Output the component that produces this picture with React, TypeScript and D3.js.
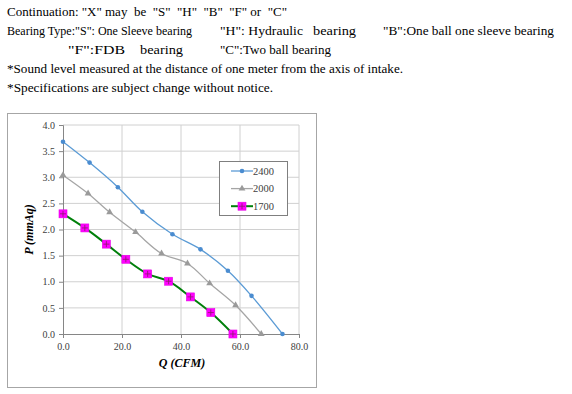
import { useEffect, useRef } from 'react';
import * as d3 from 'd3';

const flow2400 = [0, 9.0, 18.6, 26.9, 37.1, 46.6, 55.9, 63.9, 74.4];
const pres2400 = [3.68, 3.28, 2.81, 2.34, 1.91, 1.62, 1.21, 0.73, 0];
const flow2000 = [0, 8.5, 15.8, 24.6, 33.4, 42.2, 49.7, 58.5, 67.2];
const pres2000 = [3.04, 2.69, 2.33, 1.95, 1.54, 1.35, 0.97, 0.55, 0];
const flow1700 = [0, 7.4, 14.7, 21.3, 28.7, 35.8, 43.2, 50.1, 57.6];
const pres1700 = [2.30, 2.03, 1.72, 1.43, 1.15, 1.01, 0.71, 0.41, 0];
const seriesNames = ['2400', '2000', '1700'];
const xTicks = [0, 20, 40, 60, 80];
const yTicks = [0, 0.5, 1, 1.5, 2, 2.5, 3, 3.5, 4];

// header notes, split into the pieces that sit at their own places
const noteLines: { x: number; y: number; w: number; t: string }[] = [
  { x: 7, y: 16, w: 280, t: 'Continuation: "X" may  be  "S"  "H"  "B"  "F" or  "C"' },
  { x: 7, y: 35, w: 185, t: 'Bearing Type:"S": One Sleeve bearing' },
  { x: 220, y: 35, w: 83, t: '"H": Hydraulic' },
  { x: 313, y: 35, w: 43, t: 'bearing' },
  { x: 383, y: 35, w: 171, t: '"B":One ball one sleeve bearing' },
  { x: 68, y: 54, w: 57, t: '"F":FDB' },
  { x: 140, y: 54, w: 43, t: 'bearing' },
  { x: 220, y: 54, w: 111, t: '"C":Two ball bearing' },
  { x: 7, y: 73, w: 396, t: '*Sound level measured at the distance of one meter from the axis of intake.' },
  { x: 7, y: 92, w: 266, t: '*Specifications are subject change without notice.' },
];

const serif = '"Liberation Serif", "Times New Roman", serif';

export default function App() {
  const svgRef = useRef<SVGSVGElement>(null);

  useEffect(() => {
    if (!svgRef.current) return;
    const svg = d3.select(svgRef.current);
    svg.selectAll('*').remove();

    svg.append('rect').attr('width', 572).attr('height', 394).attr('fill', 'white');

    svg.selectAll('text.note')
      .data(noteLines)
      .enter()
      .append('text')
      .attr('class', 'note')
      .attr('x', d => d.x)
      .attr('y', d => d.y)
      .attr('textLength', d => d.w)
      .attr('lengthAdjust', 'spacingAndGlyphs')
      .style('white-space', 'pre')
      .attr('font-family', serif)
      .attr('font-size', 12.5)
      .attr('fill', '#000')
      .text(d => d.t);

    // chart frame
    svg.append('rect')
      .attr('x', 7.5).attr('y', 113.5)
      .attr('width', 309).attr('height', 274)
      .attr('fill', 'white')
      .attr('stroke', '#a6a6a6');

    const x = d3.scaleLinear().domain([0, 80]).range([63, 299]);
    const y = d3.scaleLinear().domain([0, 4]).range([334, 125]);

    const g = svg.append('g');

    g.selectAll('line.vg').data(xTicks.slice(1)).enter().append('line')
      .attr('x1', d => x(d)).attr('x2', d => x(d))
      .attr('y1', y(4)).attr('y2', y(0))
      .attr('stroke', '#d0d0d0');
    g.selectAll('line.hg').data(yTicks.slice(1)).enter().append('line')
      .attr('x1', x(0)).attr('x2', x(80))
      .attr('y1', d => y(d)).attr('y2', d => y(d))
      .attr('stroke', '#d0d0d0');

    const ax = g.append('g').attr('transform', `translate(0,${y(0)})`)
      .call(d3.axisBottom(x).tickValues(xTicks).tickSize(4).tickFormat(d3.format('.1f')));
    const ay = g.append('g').attr('transform', `translate(${x(0)},0)`)
      .call(d3.axisLeft(y).tickValues(yTicks).tickSize(4).tickFormat(d3.format('.1f')));
    [ax, ay].forEach(a => {
      a.select('.domain').attr('stroke', '#868686');
      a.selectAll('.tick line').attr('stroke', '#868686');
      a.selectAll('.tick text')
        .attr('font-family', serif)
        .attr('font-size', 10)
        .attr('fill', '#404040');
    });
    ax.selectAll('.tick text').attr('y', 9);
    ay.selectAll('.tick text').attr('x', -8);

    svg.append('text')
      .attr('transform', `translate(33,${(y(0) + y(4)) / 2}) rotate(-90)`)
      .attr('text-anchor', 'middle')
      .attr('font-family', serif)
      .attr('font-size', 12).attr('font-weight', 'bold').attr('font-style', 'italic')
      .text('P (mmAq)');
    svg.append('text')
      .attr('x', (x(0) + x(80)) / 2 + 1).attr('y', 367)
      .attr('text-anchor', 'middle')
      .attr('font-family', serif)
      .attr('font-size', 12).attr('font-weight', 'bold').attr('font-style', 'italic')
      .text('Q (CFM)');

    const line = d3.line<[number, number]>()
      .x(d => x(d[0])).y(d => y(d[1]))
      .curve(d3.curveCatmullRom.alpha(0.5));

    const series = [
      { name: seriesNames[0], pts: d3.zip(flow2400, pres2400) as [number, number][], color: '#5b9bd5', width: 1.3 },
      { name: seriesNames[1], pts: d3.zip(flow2000, pres2000) as [number, number][], color: '#a5a5a5', width: 1.3 },
      { name: seriesNames[2], pts: d3.zip(flow1700, pres1700) as [number, number][], color: '#00800a', width: 2 },
    ];

    const drawMarker = (sel: d3.Selection<SVGGElement, unknown, null, undefined>, i: number, cx: number, cy: number) => {
      if (i === 0) {
        sel.append('circle').attr('cx', cx).attr('cy', cy).attr('r', 2.3).attr('fill', '#4a8cd0');
      } else if (i === 1) {
        sel.append('path')
          .attr('d', d3.symbol(d3.symbolTriangle, 20)())
          .attr('transform', `translate(${cx},${cy})`)
          .attr('fill', '#9a9a9a');
      } else {
        sel.append('rect').attr('x', cx - 4).attr('y', cy - 4).attr('width', 8).attr('height', 8)
          .attr('fill', '#ff00ff').attr('stroke', '#e600e6').attr('stroke-width', 0.6);
        sel.append('path')
          .attr('d', `M${cx - 3},${cy}H${cx + 3}M${cx},${cy - 3}V${cy + 3}`)
          .attr('stroke', '#8a1a6a').attr('stroke-width', 0.8);
      }
    };

    series.forEach((s, i) => {
      g.append('path').datum(s.pts)
        .attr('fill', 'none').attr('stroke', s.color)
        .attr('stroke-width', s.width).attr('d', line);
      const mg = g.append('g');
      s.pts.forEach(p => drawMarker(mg, i, x(p[0]), y(p[1])));
    });

    // legend
    const lg = svg.append('g');
    lg.append('rect')
      .attr('x', 219.5).attr('y', 161.5).attr('width', 68).attr('height', 54)
      .attr('fill', 'white').attr('stroke', '#7f7f7f');
    series.forEach((s, i) => {
      const ly = 171 + i * 17.6;
      lg.append('line').attr('x1', 231).attr('x2', 253).attr('y1', ly).attr('y2', ly)
        .attr('stroke', s.color).attr('stroke-width', s.width);
      const mg = lg.append('g');
      drawMarker(mg, i, 242, ly);
      lg.append('text').attr('x', 253).attr('y', ly + 3.5)
        .attr('font-family', serif)
        .attr('font-size', 10.5).attr('fill', '#404040')
        .text(s.name);
    });
  }, []);

  return (
    <svg ref={svgRef} width={572} height={394}
      style={{ position: 'absolute', left: 0, top: 0, display: 'block' }} />
  );
}
